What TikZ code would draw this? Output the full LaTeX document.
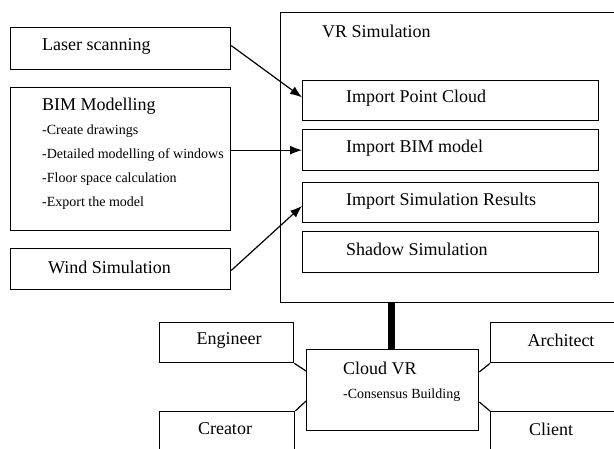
\documentclass[tikz,border=0pt]{standalone}
\usepackage{fontspec}
\setmainfont{Liberation Serif}
\newfontfamily\labelfont{Liberation Serif}
\usetikzlibrary{arrows.meta,calc}

\tikzset{
  box/.style={draw, line width=1.3pt, minimum width=#1, anchor=north west, inner sep=0pt},
  big/.style={anchor=west, inner sep=0pt, font=\labelfont\fontsize{18}{20}\selectfont},
  small/.style={anchor=west, inner sep=0pt, font=\labelfont\fontsize{14}{16}\selectfont},
  arr/.style={line width=1.2pt, -{Latex[length=12pt,width=9pt]}},
  link/.style={line width=1.2pt},
}

\begin{document}
\begin{tikzpicture}[x=1pt,y=-1pt]
\useasboundingbox (0,0) rectangle (614,448);
\fill[white] (0,0) rectangle (614,448);
\clip (0,0) rectangle (614,448);

% input boxes on the left
\node[box=220pt, minimum height=42pt] (laser) at (10,27) {};
\node[big] (lasert) at (42,46) {Laser scanning};

\node[box=220pt, minimum height=143pt] (bim) at (10,87) {};
\node[big] (bimt) at (42,106) {BIM Modelling};
\node[small] (bim1) at (42,131) {-Create drawings};
\node[small] (bim2) at (42,155) {-Detailed modelling of windows};
\node[small] (bim3) at (42,179) {-Floor space calculation};
\node[small] (bim4) at (42,203) {-Export the model};

\node[box=220pt, minimum height=41pt] (wind) at (10,248) {};
\node[big] (windt) at (48,267) {Wind Simulation};

% VR simulation container
\node[box=340pt, minimum height=290pt] (vr) at (280,12) {};
\node[big] (vrt) at (322,31) {VR Simulation};

\node[box=296pt, minimum height=40pt] (pc) at (302,80) {};
\node[big] (pct) at (346,98) {Import Point Cloud};
\node[box=296pt, minimum height=41pt] (ibim) at (302,129) {};
\node[big] (ibimt) at (346,148) {Import BIM model};
\node[box=296pt, minimum height=40pt] (isim) at (302,182) {};
\node[big] (isimt) at (346,201) {Import Simulation Results};
\node[box=296pt, minimum height=41pt] (shadow) at (302,231) {};
\node[big] (shadowt) at (346,249) {Shadow Simulation};

% arrows into the VR simulation
\draw[arr] ($(laser.north east)!0.43!(laser.south east)$) -- ($(pc.north west)!0.42!(pc.south west)$);
\draw[arr] (bim.east |- ibim.west) -- (ibim.west);
\draw[arr] ($(wind.north east)!0.53!(wind.south east)$) -- ($(isim.north west)!0.58!(isim.south west)$);

% cloud VR and stakeholders
\node[box=172pt, minimum height=81pt] (cloud) at (306,349) {};
\node[big] (cloudt) at (343,368) {Cloud VR};
\node[small] (cloud1) at (343,395) {-Consensus Building};

\node[box=134pt, minimum height=40pt] (eng) at (159,322) {};
\node[big, anchor=center] (engt) at (229,340) {Engineer};
\node[box=134pt, minimum height=40pt] (arch) at (490,322) {};
\node[big, anchor=center] (archt) at (561,340) {Architect};
\node[box=135pt, minimum height=50pt] (crea) at (159,411) {};
\node[big, anchor=center] (creat) at (225,429) {Creator};
\node[box=134pt, minimum height=50pt] (cli) at (490,411) {};
\node[big, anchor=center] (clit) at (551,429) {Client};

\draw[line width=7pt] (cloud.north -| 391,0) -- (vr.south -| 391,0);

\draw[link] (eng.south east) -- ($(cloud.north west)+(0,22)$);
\draw[link] (crea.north east) -- ($(cloud.north west)+(0,52)$);
\draw[link] (arch.south west) -- ($(cloud.north east)+(0,23)$);
\draw[link] (cli.north west) -- ($(cloud.north east)+(0,53)$);
\end{tikzpicture}
\end{document}
